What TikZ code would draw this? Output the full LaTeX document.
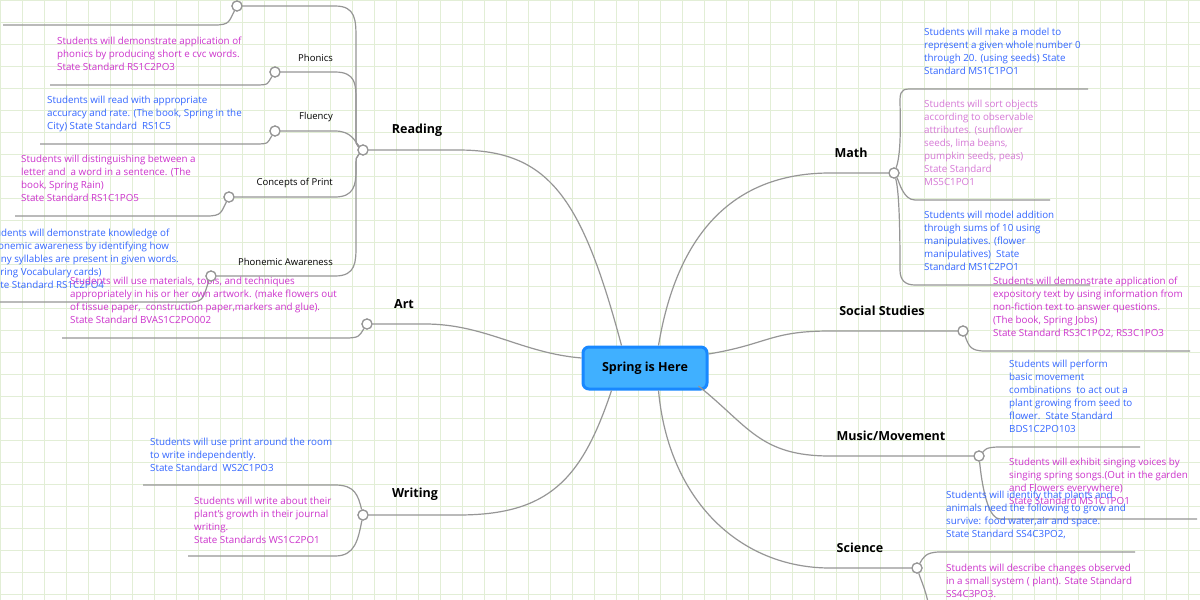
\documentclass[tikz,border=0pt]{standalone}
\usepackage{fontspec}
\setmainfont{Open Sans}
\definecolor{gridc}{RGB}{226,238,214}
\definecolor{lineg}{RGB}{150,150,150}
\definecolor{leafblue}{RGB}{51,102,255}
\definecolor{leafmag}{RGB}{204,51,204}
\definecolor{leafpale}{RGB}{214,120,214}
\definecolor{hubfill}{RGB}{64,176,255}
\definecolor{hubdraw}{RGB}{24,136,255}
\tikzset{
  link/.style={draw=lineg, line width=1.2pt},
  joint/.style={circle, draw=lineg, line width=1.2pt, fill=white, inner sep=0pt, minimum size=10pt},
  topic/.style={font=\fontsize{12.5}{15}\selectfont\bfseries, inner sep=0pt},
  sub/.style={font=\fontsize{9.5}{11}\selectfont, inner sep=0pt, anchor=east},
  leaf/.style={font=\fontsize{9.8}{13}\selectfont, align=left, inner sep=0pt, anchor=north west},
}
\begin{document}
\begin{tikzpicture}[x=1pt, y=-1pt]
 \useasboundingbox (0,0) rectangle (1200,600);
 \clip (0,0) rectangle (1200,600);
 \fill[white] (0,0) rectangle (1200,600);
 \draw[gridc, step=22pt, line width=0.6pt] (0,0) grid (1200,600);

    % Centre
 \node[draw=hubdraw, line width=3pt, fill=hubfill, rounded corners=6pt, minimum width=124pt, minimum height=42pt,
   font=\fontsize{12.5}{15}\selectfont\bfseries] (hub) at (645,368) {Spring is Here};

    % Main branches
 \node[joint] (rd) at (363,150) {};
 \node[joint] (ar) at (367,324) {};
 \node[joint] (wr) at (363,515) {};
 \node[joint] (ma) at (894,173) {};
 \node[joint] (ss) at (963,331) {};
 \node[joint] (mu) at (979,456) {};
 \node[joint] (sc) at (917,568) {};
 \coordinate (rdE) at (458,150);
 \coordinate (arE) at (425,324);
 \coordinate (wrE) at (458,515);
 \coordinate (maE) at (830,173);
 \coordinate (ssE) at (830,331);
 \coordinate (muE) at (830,456);
 \coordinate (scE) at (830,568);
 \node[topic, anchor=south] at (417,137) {Reading};
 \node[topic, anchor=south] at (404,309) {Art};
 \node[topic, anchor=south] at (415,501) {Writing};
 \node[topic, anchor=south] at (851,158) {Math};
 \node[topic, anchor=south] at (882,316) {Social Studies};
 \node[topic, anchor=south] at (891,441) {Music/Movement};
 \node[topic, anchor=south] at (860,553) {Science};

 \draw[link] (hub.north west) ++(40,0) .. controls +(-40,-150) and +(90,0) .. (rdE) -- (rd);
 \draw[link] (hub.west) ++(0,-10) .. controls +(-60,-5) and +(60,0) .. (arE) -- (ar);
 \draw[link] (hub.south west) ++(30,0) .. controls +(-30,90) and +(90,0) .. (wrE) -- (wr);
 \draw[link] (hub.north east) ++(-50,0) .. controls +(20,-120) and +(-90,0) .. (maE) -- (ma);
 \draw[link] (hub.east) ++(0,-14) .. controls +(60,-10) and +(-60,0) .. (ssE) -- (ss);
 \draw[link] (hub.east) ++(-10,18) .. controls +(50,40) and +(-70,0) .. (muE) -- (mu);
 \draw[link] (hub.south east) ++(-50,0) .. controls +(10,110) and +(-90,0) .. (scE) -- (sc);

    % Reading sub topics
 \node[joint] (r1) at (237,6) {};
 \node[joint] (r2) at (275,72) {};
 \node[joint] (r3) at (275,131) {};
 \node[joint] (r4) at (229,197) {};
 \node[joint] (r5) at (211,276) {};
 \draw[link] (r1) -- (335,6) .. controls (356,6) and (356,20) .. (356,40) -- (356,130) .. controls (356,145) .. (rd);
 \draw[link] (r2) -- (335,72) .. controls (356,72) and (356,85) .. (356,100) -- (356,130) .. controls (356,145) .. (rd);
 \draw[link] (r3) -- (335,131) .. controls (352,131) and (355,142) .. (rd);
 \draw[link] (r4) -- (335,197) .. controls (354,197) and (356,185) .. (356,170) .. controls (356,157) .. (rd);
 \draw[link] (r5) -- (335,276) .. controls (356,276) and (356,262) .. (356,245) -- (356,170) .. controls (356,157) .. (rd);
 \node[sub] at (333,58) {Phonics};
 \node[sub] at (333,117) {Fluency};
 \node[sub] at (333,183) {Concepts of Print};
 \node[sub] at (333,262) {Phonemic Awareness};

    % Reading leaves
 \draw[link] (r1) .. controls +(-8,15) and +(15,0) .. (215,25) -- (3,25);
 \draw[link] (r2) .. controls +(-8,12) and +(15,0) .. (255,85) -- (50,85);
 \draw[link] (r3) .. controls +(-8,12) and +(15,0) .. (255,144) -- (40,144);
 \draw[link] (r4) .. controls +(-8,15) and +(15,0) .. (207,216) -- (15,216);
 \draw[link] (r5) .. controls +(-8,20) and +(15,0) .. (190,302) -- (0,302);
 \node[leaf, text=leafblue] at (10,-28) {setting and characters in a story. (The\\book, The Rain) State Standard RS1C6};
 \node[leaf, text=leafmag] at (57,37) {Students will demonstrate application of\\phonics by producing short e cvc words.\\State Standard RS1C2PO3};
 \node[leaf, text=leafblue] at (47,96) {Students will read with appropriate\\accuracy and rate. (The book, Spring in the\\City) State Standard\ \ RS1C5};
 \node[leaf, text=leafmag] at (21,155) {Students will distinguishing between a\\letter and\ \ a word in a sentence. (The\\book, Spring Rain)\\State Standard RS1C1PO5};
 \node[leaf, text=leafblue] at (-14,229) {Students will demonstrate knowledge of\\phonemic awareness by identifying how\\many syllables are present in given words.\\(Spring Vocabulary cards)\\State Standard RS1C2PO4};

    % Art leaf
 \draw[link] (ar) .. controls +(-8,12) and +(15,0) .. (345,338) -- (62,338);
 \node[leaf, text=leafmag] at (70,277) {Students will use materials, tools, and techniques\\appropriately in his or her own artwork. (make flowers out\\of tissue paper,\ \ construction paper,markers and glue).\\State Standard BVAS1C2PO002};

    % Writing leaves
 \draw[link] (wr) .. controls +(-5,-20) and +(20,0) .. (335,485) -- (143,485);
 \draw[link] (wr) .. controls +(-5,25) and +(20,0) .. (335,556) -- (188,556);
 \node[leaf, text=leafblue] at (150,438) {Students will use print around the room\\to write independently.\\State Standard\ \ WS2C1PO3};
 \node[leaf, text=leafmag] at (194,497) {Students will write about their\\plant's growth in their journal\\writing.\\State Standards WS1C2PO1};

    % Math leaves
 \draw[link] (ma) .. controls +(8,-20) and +(0,10) .. (900,100) .. controls +(0,-12) and +(-10,0) .. (915,89) -- (1088,89);
 \draw[link] (ma) .. controls +(5,8) and +(-12,0) .. (915,200) -- (1050,200);
 \draw[link] (ma) .. controls +(6,20) and +(0,-20) .. (900,270) .. controls +(0,10) and +(-10,0) .. (915,285) -- (1090,285);
 \node[leaf, text=leafblue] at (924,28) {Students will make a model to\\represent a given whole number 0\\through 20. (using seeds) State\\Standard MS1C1PO1};
 \node[leaf, text=leafpale] at (924,100) {Students will sort objects\\according to observable\\attributes. (sunflower\\seeds, lima beans,\\pumpkin seeds, peas)\\State Standard\\MS5C1PO1};
 \node[leaf, text=leafblue] at (924,211) {Students will model addition\\through sums of 10 using\\manipulatives. (flower\\manipulatives)\ \ State\\Standard MS1C2PO1};

    % Social Studies leaf
 \draw[link] (ss) .. controls +(6,15) and +(-15,0) .. (985,351) -- (1190,351);
 \node[leaf, text=leafmag] at (993,277) {Students will demonstrate application of\\expository text by using information from\\non-fiction text to answer questions.\\(The book, Spring Jobs)\\State Standard RS3C1PO2, RS3C1PO3};

    % Music/Movement leaves
 \draw[link] (mu) .. controls +(6,-6) and +(-15,0) .. (1000,447) -- (1140,447);
 \draw[link] (mu) .. controls +(4,40) and +(-10,0) .. (1000,519) -- (1197,519);
 \node[leaf, text=leafblue] at (1009,360) {Students will perform\\basic movement\\combinations\ \ to act out a\\plant growing from seed to\\flower.\ \ State Standard\\BDS1C2PO103};
 \node[leaf, text=leafmag] at (1009,458) {Students will exhibit singing voices by\\singing spring songs.(Out in the garden\\and Flowers everywhere)\\State Standard MS1C1PO1};

    % Science leaves
 \draw[link] (sc) .. controls +(6,-10) and +(-15,0) .. (940,552) -- (1135,552);
 \draw[link] (sc) .. controls +(5,15) and +(0,-20) .. (930,620);
 \node[leaf, text=leafblue] at (946,491) {Students will identify that plants and\\animals need the following to grow and\\survive: food water,air and space.\\State Standard SS4C3PO2,};
 \node[leaf, text=leafmag] at (946,564) {Students will describe changes observed\\in a small system ( plant). State Standard\\SS4C3PO3.};

 \foreach \j in {rd,ar,wr,ma,ss,mu,sc,r1,r2,r3,r4,r5}
  \node[joint] at (\j) {};
\end{tikzpicture}
\end{document}
